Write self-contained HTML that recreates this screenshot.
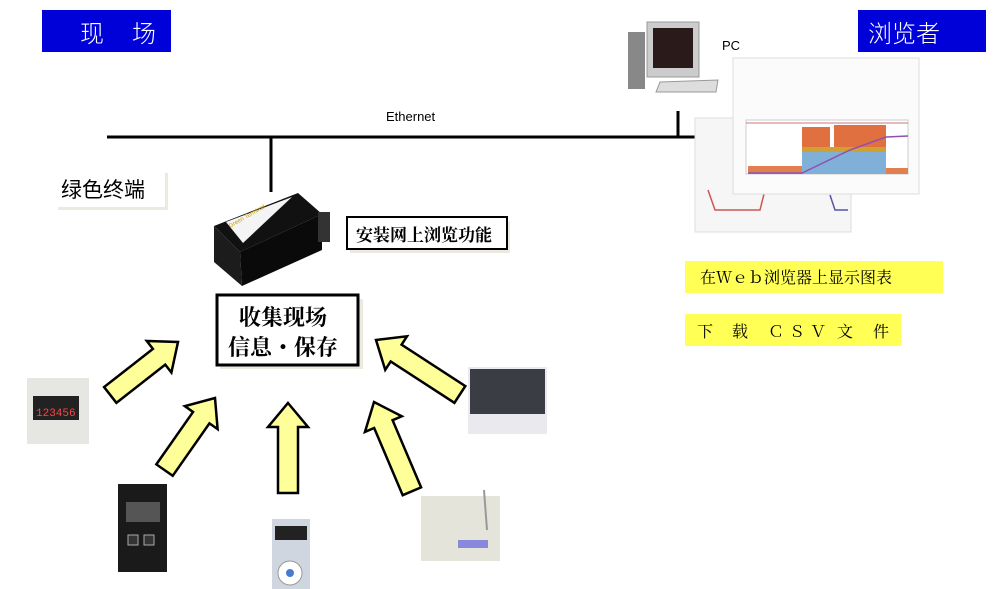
<!DOCTYPE html>
<html><head><meta charset="utf-8"><style>
body{margin:0;background:#fff;}
svg{display:block;font-family:"Liberation Serif","Noto Serif CJK SC",serif;}
</style></head><body>
<svg width="999" height="589" viewBox="0 0 999 589" xmlns="http://www.w3.org/2000/svg">
<rect width="999" height="589" fill="#fff"/>
<rect x="42" y="10" width="129" height="42" fill="#0000d8"/>
<text x="80" y="42" fill="#fff" font-size="24" font-family="Noto Sans CJK SC,sans-serif" font-weight="300">现</text>
<text x="132" y="42" fill="#fff" font-size="24" font-family="Noto Sans CJK SC,sans-serif" font-weight="300">场</text>
<rect x="858" y="10" width="128" height="42" fill="#0000d8"/>
<text x="868" y="42" fill="#fff" font-size="24" font-family="Noto Sans CJK SC,sans-serif" font-weight="300">浏览者</text>
<line x1="107" y1="137" x2="696" y2="137" stroke="#000" stroke-width="3"/>
<line x1="271" y1="137" x2="271" y2="192" stroke="#000" stroke-width="3"/>
<line x1="678" y1="111" x2="678" y2="137" stroke="#000" stroke-width="3"/>
<text x="386" y="121" font-size="13" font-family="Liberation Sans,sans-serif">Ethernet</text>
<rect x="58" y="173" width="110" height="37" fill="#ece9e0"/>
<rect x="55" y="170" width="110" height="37" fill="#fff"/>
<text x="61" y="197" font-size="21" font-family="Noto Sans CJK SC,sans-serif">绿色终端</text>
<!-- terminal device -->
<polygon points="214,226 298,193 322,214 240,252" fill="#111"/>
<polygon points="226,222 292,197 243,243" fill="#f4f4f4"/>
<polygon points="214,226 240,252 242,286 214,262" fill="#1c1c1c"/>
<polygon points="240,252 322,214 322,250 242,286" fill="#0a0a0a"/>
<rect x="318" y="212" width="12" height="30" fill="#333"/>
<text x="230" y="228" font-size="6" fill="#c8a000" font-family="Liberation Sans,sans-serif" transform="rotate(-30 230 228)">Green Terminal</text>
<rect x="350" y="221" width="160" height="32" fill="#ece9e0"/>
<rect x="347" y="217" width="160" height="32" fill="#fff" stroke="#000" stroke-width="2"/>
<text x="356" y="241" font-size="17" font-weight="bold">安装网上浏览功能</text>
<rect x="220" y="299" width="143" height="70" fill="#ece9e0"/>
<rect x="217" y="295" width="141" height="70" fill="#fff" stroke="#000" stroke-width="3"/>
<text x="239" y="325" font-size="22" font-weight="bold">收集现场</text>
<text x="228" y="355" font-size="22" font-weight="bold">信息・保存</text>
<g fill="#ffff99" stroke="#000" stroke-width="2.5" stroke-linejoin="miter">
<polygon transform="translate(178,342) rotate(52)" points="0,0 20,24 10,24 10,86 -10,86 -10,24 -20,24"/>
<polygon transform="translate(215,398) rotate(35)" points="0,0 20,24 10,24 10,88 -10,88 -10,24 -20,24"/>
<polygon transform="translate(288,403) rotate(0)" points="0,0 20,24 10,24 10,90 -10,90 -10,24 -20,24"/>
<polygon transform="translate(374,402) rotate(-23)" points="0,0 20,24 10,24 10,97 -10,97 -10,24 -20,24"/>
<polygon transform="translate(376,340) rotate(-57)" points="0,0 20,24 10,24 10,100 -10,100 -10,24 -20,24"/>
</g>
<rect x="27" y="378" width="62" height="66" fill="#e6e6e2"/>
<rect x="33" y="396" width="46" height="24" fill="#222"/>
<text x="36" y="416" font-size="11" fill="#f44" font-family="Liberation Mono,monospace">123456</text>
<rect x="118" y="484" width="49" height="88" fill="#1a1a1a"/>
<rect x="126" y="502" width="34" height="20" fill="#555"/>
<rect x="128" y="535" width="10" height="10" fill="#333" stroke="#aaa"/>
<rect x="144" y="535" width="10" height="10" fill="#333" stroke="#aaa"/>
<rect x="272" y="519" width="38" height="76" fill="#cfd6e0"/>
<rect x="275" y="526" width="32" height="14" fill="#222"/>
<circle cx="290" cy="573" r="12" fill="#fff" stroke="#999"/>
<circle cx="290" cy="573" r="4" fill="#4a7ad0"/>
<rect x="421" y="496" width="79" height="65" fill="#e5e4da"/>
<rect x="458" y="540" width="30" height="8" fill="#8888dd"/>
<line x1="484" y1="490" x2="487" y2="530" stroke="#999" stroke-width="2"/>
<rect x="468" y="367" width="79" height="67" fill="#eaeaee"/>
<rect x="470" y="369" width="75" height="45" fill="#3a3e44"/>
<rect x="628" y="32" width="17" height="57" fill="#888"/>
<rect x="647" y="22" width="52" height="55" fill="#ccc" stroke="#999"/>
<rect x="653" y="28" width="40" height="40" fill="#2a1a1a"/>
<polygon points="660,82 718,80 716,92 656,92" fill="#ddd" stroke="#999"/>
<text x="722" y="50" font-size="13" font-family="Liberation Sans,sans-serif">PC</text>
<rect x="695" y="118" width="156" height="114" fill="#f6f6f6" stroke="#ddd"/>
<polyline points="708,190 715,210 760,210 765,190" fill="none" stroke="#c55" stroke-width="1.5"/>
<polyline points="830,195 835,210 848,210" fill="none" stroke="#55a" stroke-width="1.5"/>
<rect x="733" y="58" width="186" height="136" fill="#fbfbfb" stroke="#ddd"/>
<rect x="746" y="120" width="162" height="54" fill="#fff" stroke="#ccc"/>
<line x1="746" y1="123" x2="908" y2="123" stroke="#c77" stroke-width="1"/>
<rect x="802" y="127" width="28" height="47" fill="#e07040"/>
<rect x="834" y="125" width="52" height="49" fill="#e07040"/>
<rect x="802" y="147" width="84" height="14" fill="#d0a030"/>
<rect x="802" y="152" width="84" height="22" fill="#80b0d8"/>
<rect x="748" y="166" width="54" height="8" fill="#e08050"/>
<rect x="886" y="168" width="22" height="6" fill="#e08050"/>
<polyline points="748,173 802,173 850,150 886,137 908,136" fill="none" stroke="#9050b0" stroke-width="1.5"/>
<rect x="685" y="261" width="258" height="32" fill="#ffff55"/>
<text x="700" y="283" font-size="16">在Ｗｅｂ浏览器上显示图表</text>
<rect x="685" y="314" width="216" height="32" fill="#ffff55"/>
<g font-size="16">
<text x="697" y="337">下</text>
<text x="732" y="337">载</text>
<text x="768" y="337">Ｃ</text>
<text x="789" y="337">Ｓ</text>
<text x="810" y="337">Ｖ</text>
<text x="837" y="337">文</text>
<text x="873" y="337">件</text>
</g>
</svg>
</body></html>
